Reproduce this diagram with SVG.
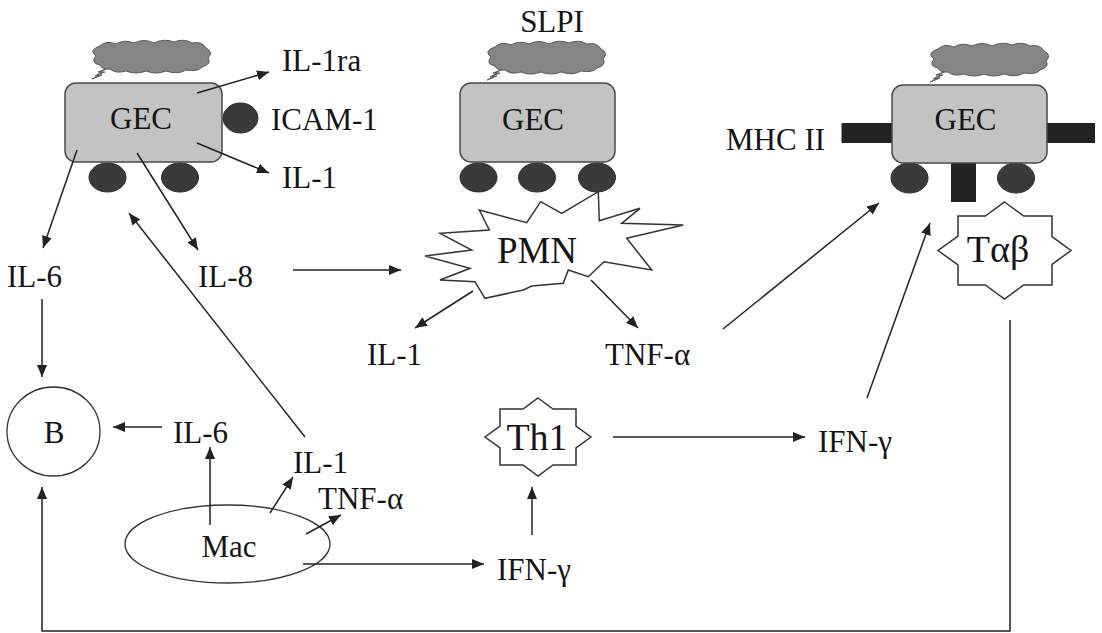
<svg xmlns="http://www.w3.org/2000/svg" width="1102" height="633" viewBox="0 0 1102 633">
<style>
text{font-family:"Liberation Serif","Times New Roman",serif;font-size:31px;fill:#151515}
.c{text-anchor:middle}
.gec{fill:#c3c3c3;stroke:#4a4a4a;stroke-width:1.5}
.wheel{fill:#3a3a3a;stroke:#2a2a2a;stroke-width:1}
.bar{fill:#222}
.cloud{fill:#858585;stroke:#5a5a5a;stroke-width:1}
.star{fill:#fff;stroke:#333;stroke-width:1.5}
.cell{fill:#fff;stroke:#333;stroke-width:1.3}
.con line,.con polyline{stroke:#222;stroke-width:1.5;fill:none;marker-end:url(#ah)}
</style>
<defs>
<marker id="ah" viewBox="0 0 12 10" refX="12" refY="5" markerWidth="12" markerHeight="10" orient="auto" markerUnits="userSpaceOnUse"><path d="M0,0 L12,5 L0,10 z" fill="#222"/></marker>
<g id="cloudshape">
<path class="cloud" d="M8,14 q-8,-6 4,-10 q6,-6 16,-2 q8,-5 18,-1 q10,-5 20,0 q10,-5 20,-1 q10,-4 18,1 q10,-2 14,5 q8,4 2,10 q4,6 -6,9 q-4,5 -16,3 q-8,5 -20,1 q-10,4 -20,0 q-10,4 -20,0 q-10,3 -16,-2 q-8,1 -10,-4 q-10,-2 -4,-9 z"/>
<path class="cloud" d="M18,27 L12,30 L17,30 L9,33 L14,33 L4,37 L11,34 L7,34 L14,30 L10,30 Z"/>
</g>
</defs>
<rect width="1102" height="633" fill="#fff"/>

<g id="gec1">
<use href="#cloudshape" transform="translate(88,42)"/>
<ellipse class="wheel" cx="107.5" cy="177.5" rx="18.5" ry="14.5"/>
<ellipse class="wheel" cx="180" cy="177.5" rx="18.5" ry="14.5"/>
<rect class="gec" x="65" y="83" width="157" height="79" rx="11"/>
<ellipse class="wheel" cx="240.5" cy="118" rx="17.5" ry="15"/>
<text class="c" x="141" y="129">GEC</text>
</g>
<g id="il1ra"><text x="282" y="71">IL-1ra</text></g>
<g id="icam1"><text x="271" y="130">ICAM-1</text></g>
<g id="il1-top"><text x="282" y="188">IL-1</text></g>

<g id="gec2">
<text class="c" x="552" y="32">SLPI</text>
<use href="#cloudshape" transform="translate(483,43)"/>
<ellipse class="wheel" cx="478.5" cy="177.5" rx="18.5" ry="14.5"/>
<ellipse class="wheel" cx="537" cy="177.5" rx="18.5" ry="14.5"/>
<ellipse class="wheel" cx="597" cy="177.5" rx="18.5" ry="14.5"/>
<rect class="gec" x="460" y="83" width="155" height="79" rx="11"/>
<text class="c" x="533" y="130">GEC</text>
</g>

<g id="gec3">
<use href="#cloudshape" transform="translate(926,45)"/>
<ellipse class="wheel" cx="909.5" cy="178" rx="18.5" ry="15"/>
<ellipse class="wheel" cx="1016" cy="178" rx="18.5" ry="15"/>
<rect class="bar" x="841.5" y="123" width="52" height="20"/>
<rect class="bar" x="1045" y="123" width="50" height="20"/>
<rect class="bar" x="951" y="160" width="25" height="42"/>
<rect class="gec" x="892" y="85" width="155" height="78" rx="11"/>
<text class="c" x="965.5" y="130">GEC</text>
</g>
<g id="mhc2"><text x="726" y="150">MHC II</text></g>

<g id="pmn">
<polygon class="star" points="479.3,210 526.7,222.7 540.7,201.7 561.7,213.3 598.3,191.7 599.3,220.7 640,208.3 621.7,223.3 683.3,225 626.7,238.3 651.7,270 604,261.7 588.3,276.7 568.3,270 563.3,283.3 531.7,286 523.3,290 485,298.3 475,281.7 440,280 470,268.3 425,256 471.7,250 440,233.3 489.3,230"/>
<text class="c" x="537" y="263" style="font-size:37px">PMN</text>
</g>

<g id="tab">
<polygon class="star" points="1004.5,202 1023.7,216 1052,216 1052,236.6 1071,250.5 1052,264.4 1052,285 1023.7,285 1004.5,299 985.3,285 958,285 958,265 938,250.5 958,236 958,216 985.3,216"/>
<text class="c" x="998" y="262" style="font-size:38px">Tαβ</text>
</g>

<g id="il6-left"><text x="7" y="287">IL-6</text></g>
<g id="il8"><text x="198" y="287">IL-8</text></g>
<g id="il1-mid"><text x="367" y="365">IL-1</text></g>
<g id="tnf-mid"><text x="605" y="365">TNF-α</text></g>

<g id="b-cell">
<ellipse class="cell" cx="53.5" cy="431.5" rx="46.5" ry="44.5"/>
<text class="c" x="54" y="443">B</text>
</g>
<g id="il6-mid"><text x="173" y="443">IL-6</text></g>
<g id="il1-low"><text x="293" y="473">IL-1</text></g>
<g id="tnf-low"><text x="318" y="509">TNF-α</text></g>
<g id="mac">
<ellipse class="cell" cx="227.5" cy="544" rx="102.5" ry="39"/>
<text class="c" x="229" y="557">Mac</text>
</g>
<g id="th1">
<polygon class="star" points="538,398 553,409 576,409 576,426 591,437 576,448 576,465 553,465 538,476 523,465 500,465 500,448 485,437 500,426 500,409 523,409"/>
<text class="c" x="537" y="450" style="font-size:38px">Th1</text>
</g>
<g id="ifn-low"><text x="497" y="580">IFN-γ</text></g>
<g id="ifn-right"><text x="818" y="452">IFN-γ</text></g>

<g id="connectors" class="con">
<line x1="197" y1="93" x2="269" y2="72"/>
<line x1="197" y1="143" x2="269" y2="173"/>
<line x1="77" y1="150" x2="43" y2="248"/>
<line x1="137" y1="153" x2="198" y2="250"/>
<line x1="305" y1="437" x2="129" y2="213"/>
<line x1="42" y1="299" x2="42" y2="377"/>
<line x1="293" y1="270" x2="401" y2="270"/>
<line x1="473" y1="291" x2="415" y2="328"/>
<line x1="591" y1="280" x2="638" y2="328"/>
<line x1="723" y1="329" x2="879" y2="203"/>
<line x1="867" y1="398" x2="930" y2="223"/>
<line x1="162" y1="427" x2="113" y2="427"/>
<line x1="210" y1="525" x2="210" y2="447"/>
<line x1="270" y1="513" x2="293" y2="477"/>
<line x1="306" y1="534" x2="341" y2="515"/>
<line x1="303" y1="564" x2="484" y2="564"/>
<line x1="532" y1="535" x2="532" y2="487"/>
<line x1="613" y1="437" x2="805" y2="437"/>
<polyline points="1010,320 1010,631 42,631 42,487"/>
</g>
</svg>
